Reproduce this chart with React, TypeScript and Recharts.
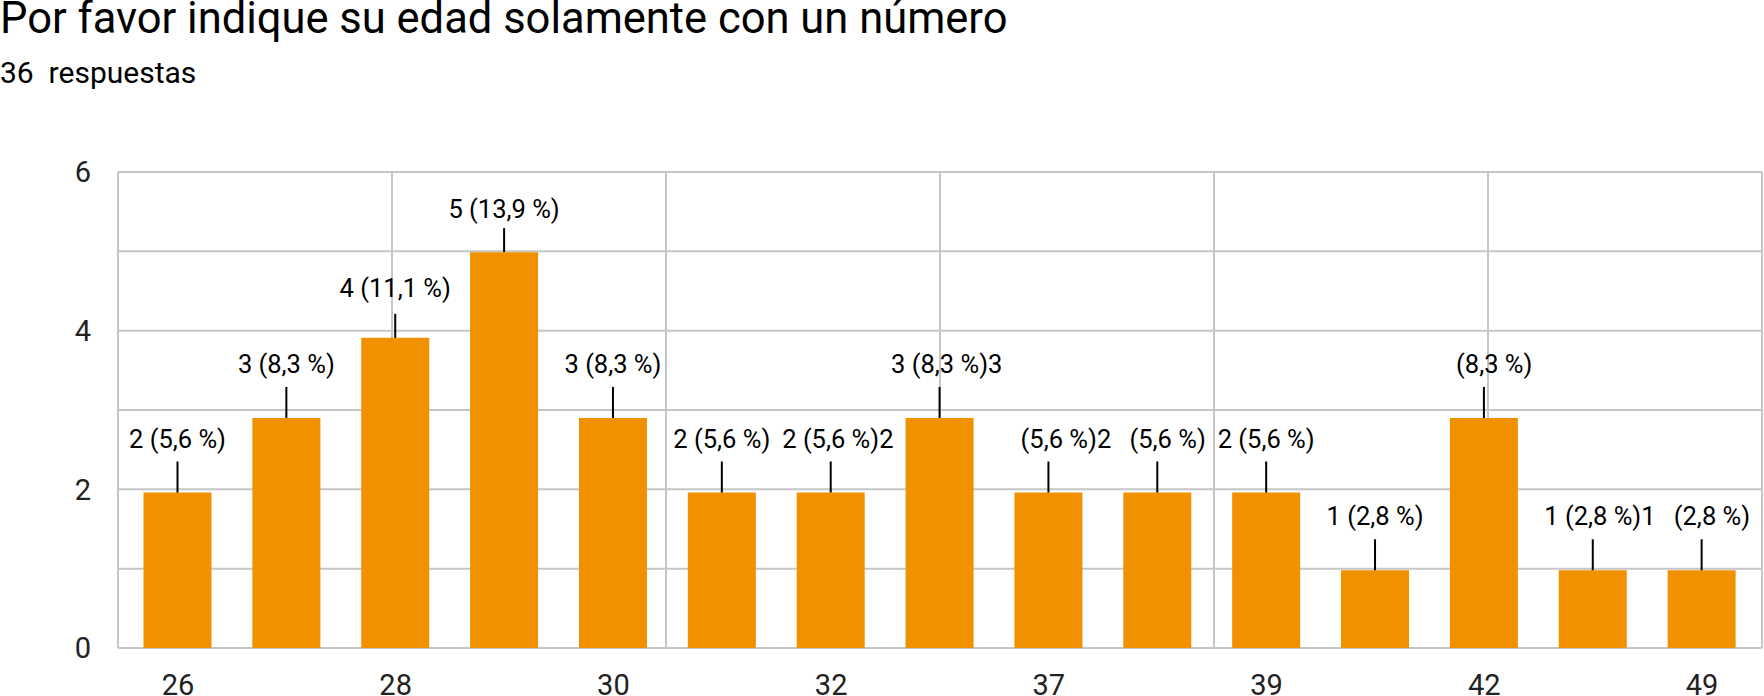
import { Bar, BarChart, CartesianGrid, LabelList, XAxis, YAxis } from 'recharts';

const categories = ['26', '27', '28', '29', '30', '31', '32', '35', '37', '38', '39', '40', '42', '45', '49'];
const counts = [2, 3, 4, 5, 3, 2, 2, 3, 2, 2, 2, 1, 3, 1, 1];
// drawn bar heights as they appear in the picture (slightly under the counts)
const barValues = [1.96, 2.9, 3.91, 4.99, 2.9, 1.96, 1.96, 2.9, 1.96, 1.96, 1.96, 0.98, 2.9, 0.98, 0.98];
// annotation quirks: leading count hidden, extra digit appended
const hiddenLead = [false, false, false, false, false, false, false, false, true, true, false, false, true, false, true];
const trailingText = ['', '', '', '', '', '', '2', '3', '2', '', '', '', '', '1', ''];
const yTicks = [0, 1, 2, 3, 4, 5, 6];

const title = 'Por favor indique su edad solamente con un número';
const total = counts.reduce((a, b) => a + b, 0);

const data = categories.map((age, i) => ({ age, count: counts[i], bar: barValues[i] }));

const FONT = 'Roboto, sans-serif';
const BAR_COLOR = '#f19100';
const GRID_COLOR = '#c6c6c6';

function formatPercent(count: number) {
  return ((count / total) * 100).toFixed(1).replace('.', ',');
}

function AnnotationLabel(props: any) {
  const { x, y, width, index } = props;
  const count = counts[index];
  const cx = Number(x) + Number(width) / 2;
  const top = Number(y);
  const stem = count >= 4 ? 24 : 31;
  const gap = count >= 5 ? 10 : count >= 4 ? 17 : 14;
  const trail = trailingText[index];
  return (
    <g>
      <line x1={cx} x2={cx} y1={top} y2={top - stem} stroke="#000" strokeWidth={2} />
      <text
        x={cx}
        y={top - stem - gap}
        textAnchor="middle"
        fontSize={25.5}
        fontFamily={FONT}
        fill="#000"
        style={{ whiteSpace: 'pre' }}
      >
        {trail && <tspan fill="transparent">{trail}</tspan>}
        <tspan fill={hiddenLead[index] ? 'transparent' : '#000'}>{`${count} `}</tspan>
        <tspan>{`(${formatPercent(count)} %)`}</tspan>
        {trail && <tspan>{trail}</tspan>}
      </text>
    </g>
  );
}

export default function App() {
  return (
    <div style={{ position: 'absolute', left: 0, top: 0, width: 1764, height: 696, background: '#fff' }}>
      <svg width={1764} height={696} style={{ position: 'absolute', left: 0, top: 0 }}>
        <text x={0} y={33} fontSize={43.5} fontFamily={FONT} fill="#000">
          {title}
        </text>
        <text x={0} y={83} fontSize={30} fontFamily={FONT} fill="#000" style={{ whiteSpace: 'pre' }}>
          {`${total}  respuestas`}
        </text>
      </svg>
      <div style={{ position: 'absolute', left: 0, top: 0 }}>
        <BarChart
          width={1764}
          height={696}
          data={data}
          margin={{ top: 172, right: 2, bottom: 0, left: 0 }}
          barSize={68}
        >
          <CartesianGrid
            stroke={GRID_COLOR}
            strokeWidth={2}
            verticalCoordinatesGenerator={({ offset }: any) =>
              [0, 1, 2, 3, 4, 5, 6].map((i) => offset.left + (i * offset.width) / 6)
            }
          />
          <XAxis
            dataKey="age"
            interval={1}
            axisLine={false}
            tickLine={false}
            tickSize={0}
            tickMargin={26}
            height={48}
            padding={{ left: 5.5, right: 5.5 }}
            tick={{ fill: '#222', fontSize: 29, fontFamily: FONT }}
          />
          <YAxis
            domain={[0, 6]}
            ticks={yTicks}
            interval={0}
            width={118}
            axisLine={false}
            tickLine={false}
            tickSize={0}
            tickMargin={27}
            tickFormatter={(v: number) => (v % 2 === 0 ? String(v) : '')}
            tick={{ fill: '#222', fontSize: 29, fontFamily: FONT }}
          />
          <Bar dataKey="bar" fill={BAR_COLOR} isAnimationActive={false}>
            <LabelList dataKey="count" content={AnnotationLabel} />
          </Bar>
        </BarChart>
      </div>
    </div>
  );
}
